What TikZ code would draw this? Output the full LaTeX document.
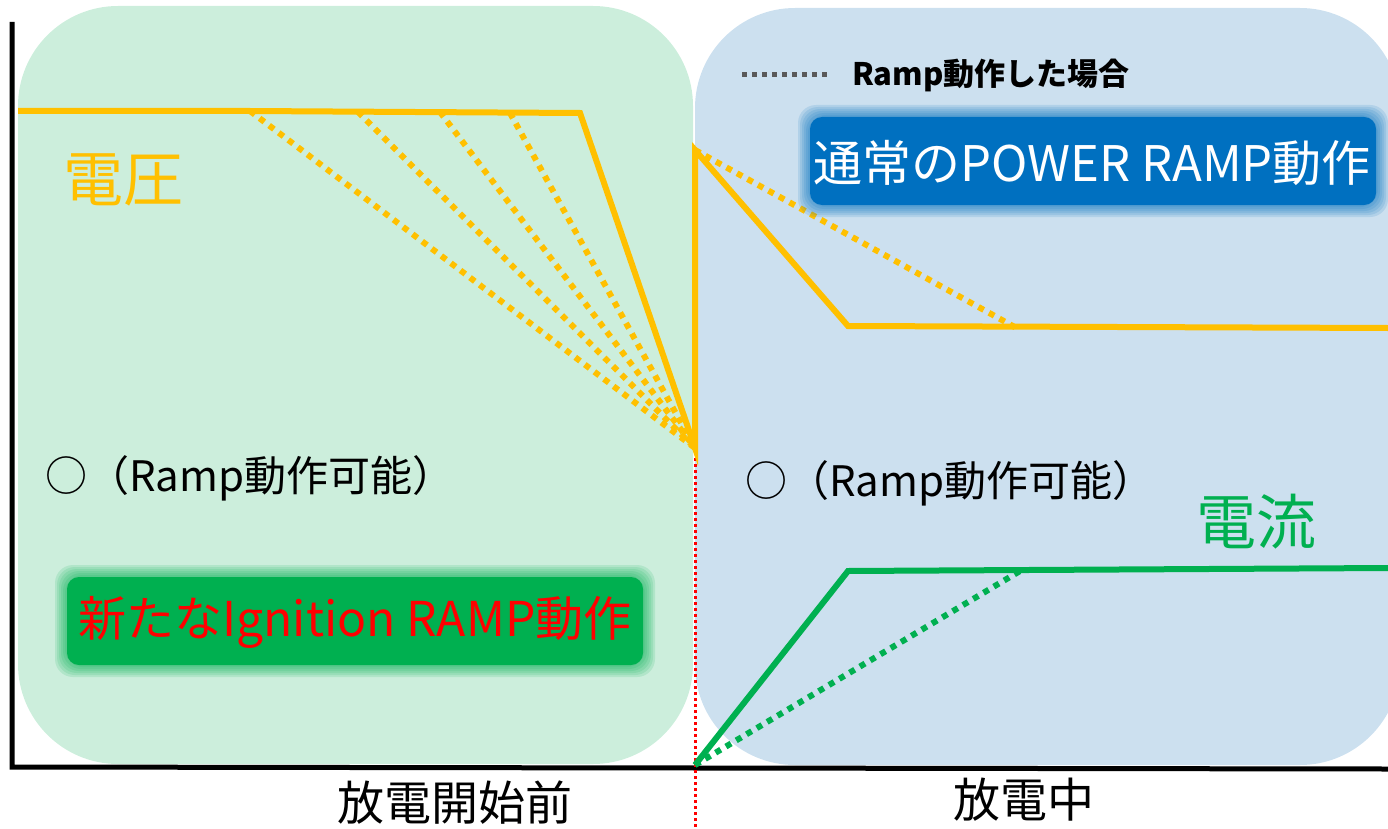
\documentclass[tikz,border=0pt]{standalone}
\usepackage{fontspec}
\setmainfont{Noto Sans CJK JP}
\definecolor{volt}{HTML}{FFC000}
\definecolor{curr}{HTML}{00B050}
\definecolor{greenbg}{HTML}{CCEEDC}
\definecolor{bluebg}{HTML}{CCE0EF}
\definecolor{bluebox}{HTML}{0070C0}
\definecolor{legendgray}{HTML}{595959}
\tikzset{
  solidv/.style={volt, line width=6pt, line join=miter},
  dotv/.style={volt, line width=6pt, dash pattern=on 6pt off 6pt},
  solidc/.style={curr, line width=6pt},
  dotc/.style={curr, line width=6pt, dash pattern=on 6pt off 6pt},
  axis/.style={black, line width=5pt},
  lbl/.style={inner sep=0pt, anchor=center},
}
\begin{document}
\begin{tikzpicture}[x=1pt,y=-1pt]
\useasboundingbox (0,0) rectangle (1388,829);
\clip (0,0) rectangle (1388,829);
% background panels
\fill[greenbg, rounded corners=100pt] (18,6) rectangle (693,764);
\fill[bluebg, rounded corners=100pt] (695,8) rectangle (1400,765);
% axes
\coordinate (otop) at (12,22);
\coordinate (o) at (12,767);
\coordinate (oright) at (1388,769);
\draw[axis] (otop) -- (o) -- (oright);
% red divider
\coordinate (dtop) at (695,452);
\coordinate (dbot) at (695,829);
\draw[red, line width=3pt, dash pattern=on 3pt off 3pt] (dtop) -- (dbot);
% voltage
\coordinate (v0) at (18,111);
\coordinate (v1) at (250,111);
\coordinate (va) at (358,112);
\coordinate (vb) at (440,112);
\coordinate (vc) at (510,113);
\coordinate (v2) at (580,113);
\coordinate (v3) at (695,448);
\coordinate (v4) at (695,150);
\coordinate (v5) at (848,326);
\coordinate (v6) at (1388,328);
\coordinate (vd) at (1020,330);
\foreach \p in {v1,va,vb,vc} \draw[dotv] (\p) -- (v3);
\draw[dotv] (v4) -- (vd);
\draw[solidv] (v0) -- (v1) -- (v2) -- (v3) -- (v4) -- (v5) -- (v6);
% current
\coordinate (c0) at (695,765);
\coordinate (c1) at (848,571);
\coordinate (c2) at (1388,568);
\coordinate (cd) at (1020,571);
\draw[dotc] (c0) -- (cd);
\draw[solidc] (c0) -- (c1) -- (c2);
% labels
\node[lbl, text=volt, font=\fontsize{60}{60}\selectfont] (volt) at (123,180) {電圧};
\node[lbl, text=curr, font=\fontsize{60}{60}\selectfont] (curr) at (1256,522) {電流};
\node[lbl, anchor=west, font=\fontsize{42}{42}\selectfont] (ok1) at (45,478) {○（Ramp動作可能）};
\node[lbl, anchor=west, font=\fontsize{42}{42}\selectfont] (ok2) at (745,483) {○（Ramp動作可能）};
\node[lbl, font=\fontsize{47}{47}\selectfont] (x1) at (455,803) {放電開始前};
\node[lbl, font=\fontsize{47}{47}\selectfont] (x2) at (1024,800) {放電中};
% legend
\coordinate (lg0) at (742,75);
\coordinate (lg1) at (830,75);
\draw[legendgray, line width=5pt, dash pattern=on 5pt off 5pt] (lg0) -- (lg1);
\node[lbl, anchor=west, font=\bfseries\fontsize{31}{31}\selectfont] (lgt) at (852,75) {Ramp動作した場合};
% blurred boxes
\foreach \e in {12,10,8,6,4,2} {
  \fill[curr, opacity=0.13, rounded corners=18pt] (67-\e,577-\e) rectangle (643+\e,665+\e);
  \fill[bluebox, opacity=0.13, rounded corners=18pt] (810-\e,117-\e) rectangle (1376+\e,205+\e);
}
\fill[curr, rounded corners=12pt] (67,577) rectangle (643,665);
\fill[bluebox, rounded corners=12pt] (810,117) rectangle (1376,205);
\node[lbl, text=red, font=\fontsize{48}{48}\selectfont] (ign) at (355,622) {新たなIgnition RAMP動作};
\node[lbl, text=white, font=\fontsize{49}{49}\selectfont] (pow) at (1092,163) {通常のPOWER RAMP動作};
\end{tikzpicture}
\end{document}
